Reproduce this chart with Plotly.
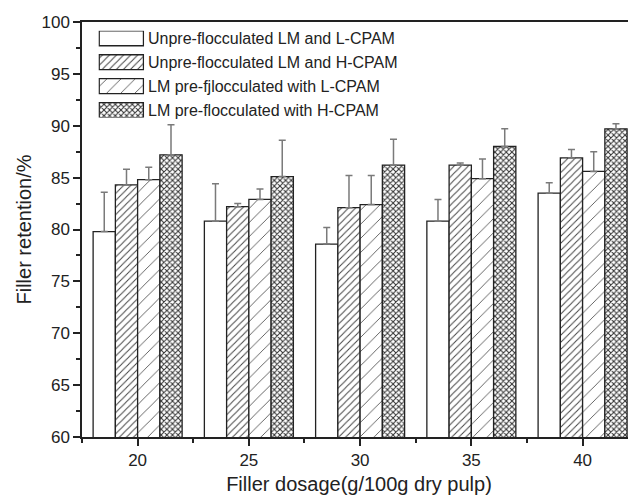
import plotly.graph_objects as go

# ---- data ----
dosage = [20, 25, 30, 35, 40]
series_names = [
    "Unpre-flocculated LM and L-CPAM",
    "Unpre-flocculated LM and H-CPAM",
    "LM pre-fjlocculated with L-CPAM",
    "LM pre-flocculated with H-CPAM",
]
unpre_L = [79.8, 80.8, 78.6, 80.8, 83.5]
unpre_L_err = [3.8, 3.6, 1.6, 2.1, 1.0]
unpre_H = [84.3, 82.2, 82.1, 86.2, 86.9]
unpre_H_err = [1.5, 0.3, 3.1, 0.2, 0.8]
pre_L = [84.8, 82.9, 82.4, 84.9, 85.6]
pre_L_err = [1.2, 1.0, 2.8, 1.9, 1.9]
pre_H = [87.2, 85.1, 86.2, 88.0, 89.7]
pre_H_err = [2.9, 3.5, 2.5, 1.7, 0.5]

values = [unpre_L, unpre_H, pre_L, pre_H]
errors = [unpre_L_err, unpre_H_err, pre_L_err, pre_H_err]

# styles
pat_shape = ["", "/", "/", "x"]
pat_size = [5, 5, 10, 4]
pat_solid = [0.1, 0.2, 0.09, 0.45]
pat_fg = ["#ffffff", "#444444", "#555555", "#333333"]

FONT = "Liberation Sans, Arial, sans-serif"
fig = go.Figure()

for i, (name, vals, errs) in enumerate(zip(series_names, values, errors)):
    pat = dict(shape=pat_shape[i], size=pat_size[i], solidity=pat_solid[i],
               fgcolor=pat_fg[i], bgcolor="white", fillmode="replace")
    fig.add_trace(go.Bar(
        x=dosage, y=vals, name=name,
        marker=dict(color="white", line=dict(color="#222", width=1.3), pattern=pat),
        error_y=dict(type="data", array=errs, arrayminus=[0] * len(errs), symmetric=False,
                     color="#7a7a7a", thickness=1.5, width=3.5),
        showlegend=False,
    ))

# custom legend swatches (wide rectangles) on an auxiliary axis pair
fig.add_trace(go.Bar(
    y=[0, 1, 2, 3], x=[1, 1, 1, 1], orientation="h", width=0.625,
    xaxis="x2", yaxis="y2", showlegend=False, hoverinfo="skip",
    marker=dict(
        color="white", line=dict(color="#222", width=1.3),
        pattern=dict(shape=pat_shape, size=pat_size, solidity=pat_solid,
                     fgcolor=pat_fg, bgcolor="white", fillmode="replace"),
    ),
))
for i, name in enumerate(series_names):
    fig.add_annotation(text=name, xref="paper", yref="y2", x=0.115, y=i,
                       xanchor="left", yanchor="middle", showarrow=False,
                       font=dict(family=FONT, size=16, color="#222"))

# page body has an 8px default margin: figure is 628x490 placed at (8,8)
fig.update_layout(
    width=628, height=490,
    margin=dict(l=74, r=0, t=14, b=61),
    paper_bgcolor="white", plot_bgcolor="white",
    barmode="group", bargap=0.2, bargroupgap=0,
    font=dict(family=FONT, size=17, color="#222"),
    xaxis=dict(
        range=[17.5, 42.4], tickvals=dosage, ticks="outside", ticklen=7, tickwidth=1.5,
        tickcolor="#222", showline=True, linecolor="#222", linewidth=1.5, mirror=True,
        showgrid=False, zeroline=False,
        minor=dict(dtick=2.5, tick0=17.5, ticks="outside", ticklen=4, tickwidth=1.5, tickcolor="#222"),
        tickfont=dict(size=17),
        title=dict(text="Filler dosage(g/100g dry pulp)", font=dict(size=20), standoff=8),
    ),
    yaxis=dict(
        range=[60, 100], dtick=5, ticks="outside", ticklen=7, tickwidth=1.5, tickcolor="#222",
        showline=True, linecolor="#222", linewidth=1.5, mirror=False,
        showgrid=False, zeroline=False,
        minor=dict(dtick=2.5, ticks="outside", ticklen=4, tickwidth=1.5, tickcolor="#222"),
        tickfont=dict(size=17),
        title=dict(text="Filler retention/%", font=dict(size=20), standoff=4),
    ),
    xaxis2=dict(domain=[0.0295, 0.1125], range=[-0.02, 1.02], anchor="y2", visible=False,
                fixedrange=True),
    yaxis2=dict(domain=[0.7697, 0.9788], range=[3.3125, -0.3125], anchor="x2", visible=False,
                fixedrange=True),
)

fig.write_html("out.html")
